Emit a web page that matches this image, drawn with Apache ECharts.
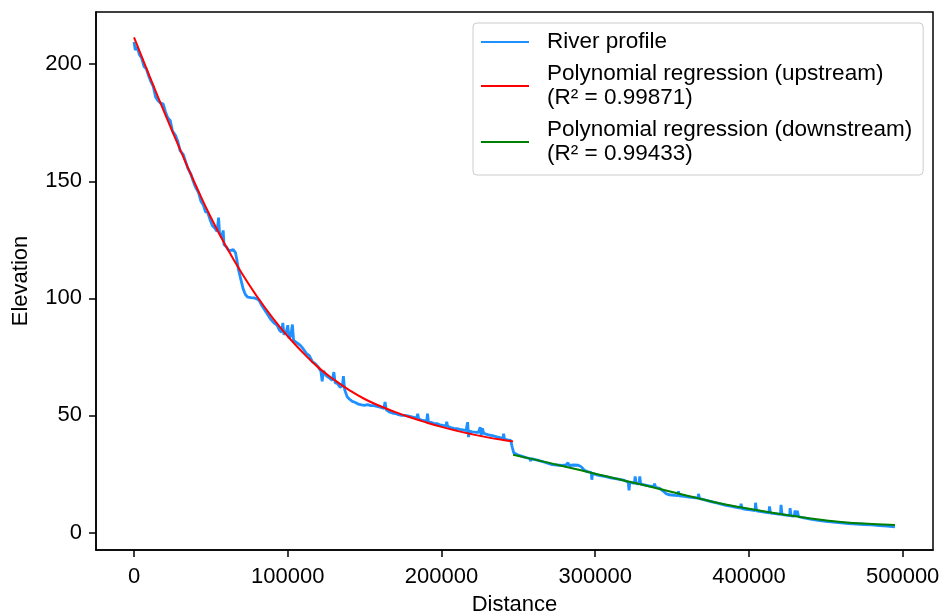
<!DOCTYPE html>
<html>
<head>
<meta charset="utf-8">
<title>River profile</title>
<script src="https://cdn.jsdelivr.net/npm/echarts@6/dist/echarts.min.js"></script>
<style>
  html, body { margin: 0; padding: 0; background: #fff; }
  #chart { width: 943px; height: 614px; }
</style>
</head>
<body>
<div id="chart"></div>
<script>
// river profile (distance, elevation)
const riverDist = [
  0, 800, 2000, 3500, 5000, 6500, 8000, 9500, 11000, 12500, 14000, 15500, 17000, 19000, 20500,
  22000, 23500, 25000, 27000, 28500, 30000, 32000, 33500, 35000, 37000, 38500, 40000, 42000,
  43500, 45000, 46500, 48000, 49500, 51000, 52500, 54000, 55000, 55600, 57000, 58000, 58500,
  60000, 61500, 63000, 64500, 66000, 67000, 68000, 69500, 71000, 72500, 74000, 76000, 78000,
  80000, 81500, 83000, 85000, 87000, 89000, 91000, 93000, 94500, 96000, 96800, 97500, 99000,
  100000, 100800, 102000, 103000, 103800, 105000, 106000, 108000, 110000, 112000, 114000,
  116000, 118000, 120000, 121500, 122400, 123200, 125000, 127000, 129000, 130000, 130800,
  132500, 134000, 135500, 136200, 137000, 138600, 140000, 142000, 144000, 146000, 148000,
  150000, 152000, 154000, 156000, 158000, 160000, 162500, 163300, 164000, 166000, 168000,
  170000, 172000, 174000, 176000, 178000, 180000, 182000, 183900, 184500, 185200, 187000,
  189000, 190400, 190900, 191500, 193000, 195000, 197000, 199000, 201000, 203000, 203400,
  204000, 206000, 208000, 210000, 212000, 214000, 216000, 217000, 217600, 218200, 220000,
  222000, 224000, 225200, 225800, 226600, 227500, 230000, 232000, 234000, 236000, 238000,
  240000, 240400, 241000, 243000, 245000, 246000, 247000, 248500, 250000, 252000, 254000,
  256000, 257500, 258000, 258500, 260500, 263000, 266000, 269000, 272000, 275000, 278000,
  281000, 282300, 283000, 286000, 289000, 291000, 293000, 295000, 297500, 297800, 298300,
  301000, 304000, 307000, 310000, 313000, 316000, 319000, 321500, 322000, 322500, 325500,
  326000, 326600, 328500, 329000, 329600, 332000, 335000, 338000, 338600, 339300, 342000,
  344000, 346000, 348000, 352000, 353800, 354200, 354800, 358000, 361000, 364000, 367000,
  367200, 367900, 370000, 373000, 376000, 379000, 382000, 385000, 388000, 391000, 394500,
  394900, 395500, 398000, 401000, 404000, 404300, 405000, 407000, 410000, 413000, 413400,
  414000, 417000, 420500, 420900, 421500, 424000, 426500, 426800, 427400, 429500, 430000,
  430700, 431500, 432300, 435000, 440000, 445000, 450000, 455000, 460000, 465000, 470000,
  475000, 480000, 485000, 490000, 495000
];
const riverElev = [
  209.5, 206, 207.5, 204, 202.5, 199, 198, 195, 192.5, 190.5, 186, 184.5, 183.5, 183, 179.5,
  177, 176, 171.5, 169.5, 167, 163, 161.5, 158.5, 155.5, 153, 150, 147.5, 145,
  141.5, 140, 137, 136.5, 133.5, 131, 130, 128.5, 134.5, 128, 126, 129, 123,
  122, 120.5, 120.5, 120.8, 119.5, 116, 112, 108, 104, 101.5, 100.5, 100.3, 100.2,
  99.8, 99, 97, 95, 93, 91, 89.5, 88.5, 86.5, 85.5, 89.5, 84.5, 85.5,
  88.5, 83, 84, 88.8, 82, 82.5, 81, 80, 78.5, 76.5, 75.5,
  73, 72, 70.5, 69, 64.5, 69, 67, 66, 65, 68.5, 64,
  63.5, 62, 62.5, 66.8, 61, 58, 57, 56, 55.5, 54.8, 54.5,
  54.3, 54.6, 54.2, 54.2, 53.8, 53.5, 53, 55.7, 52.5, 51.5, 51,
  50.8, 50.3, 50, 50, 49.8, 49.5, 49.2, 48.8, 50.7, 48.5, 48,
  47.8, 47.5, 50.7, 47.3, 47, 46.6, 46.5, 46, 45.7, 45.6, 47.3,
  45.3, 44.8, 44.5, 44.3, 44, 43.8, 43.5, 47.1, 40.7, 43.3, 43,
  42.8, 42.7, 45, 41.4, 44.5, 42.3, 41.8, 41.5, 41.2, 40.8, 40.5,
  40.2, 42.2, 39.8, 39.5, 39.3, 36.5, 34, 33.5, 33, 32.6, 32.2,
  31.8, 31.5, 30.5, 31.5, 31.2, 30.8, 30.2, 29.6, 29, 28.8, 28.6,
  28.8, 29.8, 28.6, 28.8, 28.7, 28, 26.5, 26, 25.6, 22.5, 25.3,
  24.6, 24.2, 23.8, 23.3, 23, 22.7, 22.2, 21.5, 18, 21.5, 21,
  23.9, 20.9, 20.8, 23.9, 20.6, 20.3, 19.9, 19.6, 20.8, 19.3, 18.8,
  17.8, 16.6, 16.1, 15.8, 15.7, 17.6, 15.6, 15.4, 15.1, 14.9, 14.7,
  16.5, 14.4, 14.1, 13.6, 13.1, 12.6, 12.1, 11.6, 11.2, 10.8, 10.4,
  12.3, 10.2, 9.9, 9.6, 9.3, 12.7, 9.2, 9.0, 8.7, 8.4, 11.1,
  8.3, 8.0, 7.7, 11.8, 7.6, 7.4, 7.2, 10.4, 7.1, 7.0, 9.4,
  6.8, 9.2, 6.7, 6.3, 5.7, 5.2, 4.7, 4.4, 4.1, 3.8, 3.6,
  3.4, 3.2, 2.9, 2.7, 2.4
];

// fitted curves
const upDist = [0, 10000, 20000, 30000, 40000, 50000, 60000, 70000, 80000, 90000, 100000, 110000,
  120000, 130000, 140000, 150000, 160000, 170000, 180000, 190000, 200000, 210000, 220000,
  230000, 240000, 246600];
const upElev = [211.5, 195, 179, 163.5, 148.5, 134.5, 122, 110.8, 100.8, 91.8, 83.8, 76.7,
  70.4, 65.3, 60.8, 57, 54, 51.4, 49.1, 47, 45.1, 43.4, 41.9, 40.6, 39.5, 38.9];
const downDist = [246600, 260000, 280000, 300000, 320000, 340000, 360000, 380000, 400000,
  420000, 440000, 460000, 480000, 495000];
const downElev = [33.2, 31.2, 28.2, 25.1, 22.0, 18.9, 15.7, 12.6, 10.1, 7.9, 6.0, 4.5, 3.6, 3.2];

const xTicks = [0, 100000, 200000, 300000, 400000, 500000];
const yTicks = [0, 50, 100, 150, 200];
const names = [
  "River profile",
  "Polynomial regression (upstream)\n(R² = 0.99871)",
  "Polynomial regression (downstream)\n(R² = 0.99433)"
];

const font = "Arial, 'Liberation Sans', Helvetica, sans-serif";
const pairs = (xs, ys) => xs.map((x, i) => [x, ys[i]]);

const chart = echarts.init(document.getElementById("chart"), null, { renderer: "canvas" });
const options = {
  animation: false,
  backgroundColor: "#fff",
  textStyle: { fontFamily: font, color: "#000" },
  grid: {
    left: 96, right: 10, top: 12, bottom: 64,
    show: true, borderColor: "#000", borderWidth: 1.5,
    containLabel: false, outerBoundsMode: "none"
  },
  legend: {
    orient: "vertical",
    left: 473, top: 23,
    padding: [7, 11, 9, 8],
    itemGap: 8,
    itemWidth: 48, itemHeight: 2,
    icon: "rect",
    backgroundColor: "#fff",
    borderColor: "#cccccc", borderWidth: 1, borderRadius: 4,
    textStyle: { fontSize: 22.5, lineHeight: 24, color: "#000", fontFamily: font, padding: [0, 0, 0, 13] },
    data: names
  },
  xAxis: {
    type: "value",
    min: -24750, max: 519750,
    name: "Distance", nameLocation: "middle", nameGap: 44,
    nameTextStyle: { fontSize: 22, color: "#000", fontFamily: font },
    axisLine: { show: true, onZero: false, lineStyle: { color: "#000", width: 1.5 } },
    axisTick: { show: true, length: 7, lineStyle: { color: "#000", width: 1.5 }, customValues: xTicks },
    axisLabel: { fontSize: 22, color: "#000", margin: 16, customValues: xTicks, formatter: (v) => String(v) },
    splitLine: { show: false }
  },
  yAxis: {
    type: "value",
    min: -7.5, max: 222.3,
    name: "Elevation", nameLocation: "middle", nameGap: 64,
    nameTextStyle: { fontSize: 22, color: "#000", fontFamily: font },
    axisLine: { show: true, onZero: false, lineStyle: { color: "#000", width: 1.5 } },
    axisTick: { show: true, length: 7, lineStyle: { color: "#000", width: 1.5 }, customValues: yTicks },
    axisLabel: { fontSize: 22, color: "#000", margin: 14, customValues: yTicks, formatter: (v) => String(v) },
    splitLine: { show: false }
  },
  series: [
    {
      name: names[0], type: "line", showSymbol: false, symbol: "none",
      color: "#1e90ff", lineStyle: { width: 2.8, color: "#1e90ff" },
      data: pairs(riverDist, riverElev), z: 2
    },
    {
      name: names[1], type: "line", showSymbol: false, symbol: "none", smooth: true,
      color: "#ff0000", lineStyle: { width: 2, color: "#ff0000" },
      data: pairs(upDist, upElev), z: 3
    },
    {
      name: names[2], type: "line", showSymbol: false, symbol: "none", smooth: true,
      color: "#008000", lineStyle: { width: 2, color: "#008000" },
      data: pairs(downDist, downElev), z: 4
    }
  ]
};
chart.setOption(options);
window.addEventListener("resize", () => {
  chart.resize();
});
</script>
</body>
</html>
